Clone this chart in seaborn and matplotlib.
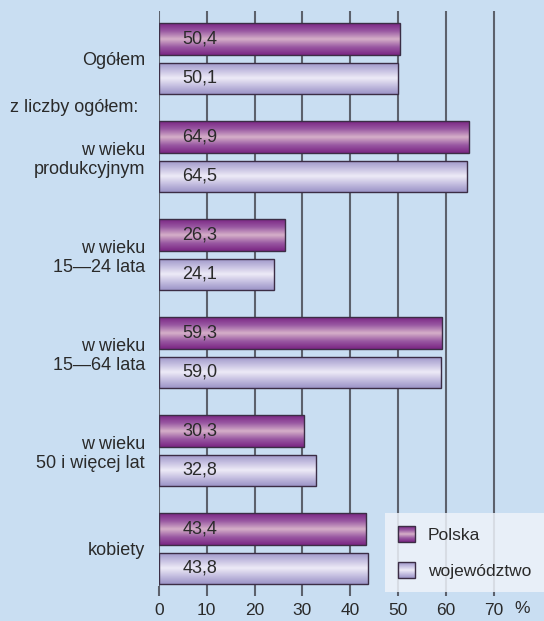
import numpy as np
import pandas as pd
import matplotlib
matplotlib.use("Agg")
import matplotlib.pyplot as plt
import seaborn as sns
from matplotlib.colors import LinearSegmentedColormap
from matplotlib.patches import Rectangle
from matplotlib.legend_handler import HandlerBase
from matplotlib.image import BboxImage
from matplotlib.transforms import Bbox, TransformedBbox, blended_transform_factory

categories = ["Ogółem", "w wieku\nprodukcyjnym", "w wieku\n15—24 lata",
              "w wieku\n15—64 lata", "w wieku\n50 i więcej lat", "kobiety"]
series = ["Polska", "województwo"]
polska = [50.4, 64.9, 26.3, 59.3, 30.3, 43.4]
wojewodztwo = [50.1, 64.5, 24.1, 59.0, 32.8, 43.8]
xticks = [0, 10, 20, 30, 40, 50, 60, 70]

df = pd.DataFrame({
    "cat": categories * 2,
    "series": [series[0]] * len(categories) + [series[1]] * len(categories),
    "value": polska + wojewodztwo,
})

BG = "#c9def2"
TXT = "#2a2a2a"
GRID = "#5c616c"

sns.set_theme(style="white")
plt.rcParams["font.family"] = ["Liberation Sans", "DejaVu Sans"]

fig = plt.figure(figsize=(5.44, 6.21), dpi=100, facecolor=BG)
W, H = 544, 621
ax_left, ax_right, ax_top, ax_bot = 159, 544, 11, 586
ax = fig.add_axes([ax_left / W, 1 - ax_bot / H, (ax_right - ax_left) / W, (ax_bot - ax_top) / H])
ax.set_facecolor(BG)

sns.barplot(data=df, y="cat", x="value", hue="series", hue_order=series,
            order=categories, orient="h", width=0.8, gap=0.2, legend=False,
            palette=["#9c5a9f", "#d8d2ec"], ax=ax, zorder=3)

cm_pol = LinearSegmentedColormap.from_list(
    "pol", ["#7a2683", "#9a5aa3", "#d6b0c9", "#9a5aa3", "#7a2683"])
cm_woj = LinearSegmentedColormap.from_list(
    "woj", ["#9d95c8", "#c4bee0", "#eeebf7", "#c4bee0", "#9d95c8"])
grad = np.linspace(0, 1, 64).reshape(-1, 1)

xmax = (ax_right - ax_left) / 4.78
ymin = -0.486
ymax = ymin + (ax_bot - ax_top) / 98.0

for cont, cmap, vals in zip(ax.containers, [cm_pol, cm_woj], [polska, wojewodztwo]):
    for p, v in zip(cont.patches, vals):
        p.set_facecolor("none")
        p.set_edgecolor("#3b2d45")
        p.set_linewidth(1.0)
        p.set_zorder(4)
        x0, y0, w, h = p.get_x(), p.get_y(), p.get_width(), p.get_height()
        im = ax.imshow(grad, cmap=cmap, extent=[x0, x0 + w, y0 + h, y0],
                       aspect="auto", interpolation="bilinear", zorder=3.5)
        im.set_clip_path(p)
        ax.annotate(f"{v:.1f}".replace(".", ","), (x0, y0 + h / 2),
                    xytext=(17, 0), textcoords="offset points",
                    ha="left", va="center", fontsize=13, color=TXT, zorder=5)

ax.set_xlim(0, xmax)
ax.set_ylim(ymax, ymin)
ax.set_xticks(xticks)
ax.set_xticklabels([str(t) for t in xticks])
ax.xaxis.grid(True, color=GRID, linewidth=1.5)
ax.yaxis.grid(False)
ax.set_axisbelow(True)
for s in ax.spines.values():
    s.set_visible(False)
ax.tick_params(axis="x", length=7.2, width=1.5, color=GRID, pad=5,
               labelsize=12.5, labelcolor=TXT, bottom=True)
ax.tick_params(axis="y", length=0, pad=10, labelsize=13, labelcolor=TXT)
for lbl in ax.get_yticklabels():
    lbl.set_multialignment("right")
ax.set_xlabel("")
ax.set_ylabel("")

trans = blended_transform_factory(ax.transData, ax.transAxes)
ax.annotate("%", (76, 0), xycoords=trans, xytext=(0, -10.5), textcoords="offset points",
            ha="center", va="top", fontsize=12.5, color=TXT, annotation_clip=False)
ax.annotate("z liczby ogółem:", (0, 0.5), xycoords="data", xytext=(-15, 0),
            textcoords="offset points", ha="right", va="center",
            fontsize=13, color=TXT, annotation_clip=False)


class GradHandler(HandlerBase):
    def __init__(self, cmap):
        super().__init__()
        self.cmap = cmap

    def create_artists(self, legend, orig_handle, xdescent, ydescent, width, height,
                       fontsize, trans):
        bb = TransformedBbox(Bbox.from_bounds(-xdescent, -ydescent, width, height), trans)
        img = BboxImage(bb, cmap=self.cmap, interpolation="bilinear")
        img.set_data(grad)
        rect = Rectangle((-xdescent, -ydescent), width, height, facecolor="none",
                         edgecolor="#3b2d45", linewidth=1.0, transform=trans)
        return [img, rect]


h1 = Rectangle((0, 0), 1, 1)
h2 = Rectangle((0, 0), 1, 1)
leg = fig.legend([h1, h2], series, loc="lower right", bbox_to_anchor=(1.0, 0.0467),
                 bbox_transform=fig.transFigure, borderaxespad=0,
                 handler_map={h1: GradHandler(cm_pol), h2: GradHandler(cm_woj)},
                 fontsize=12.5, handlelength=1.0, handleheight=1.0,
                 labelspacing=1.1, borderpad=0.75, handletextpad=0.7,
                 frameon=True, fancybox=False, facecolor="#eef3fa", framealpha=0.85,
                 edgecolor="none")
for t in leg.get_texts():
    t.set_color(TXT)

fig.savefig("out.png", dpi=100, facecolor=BG)
